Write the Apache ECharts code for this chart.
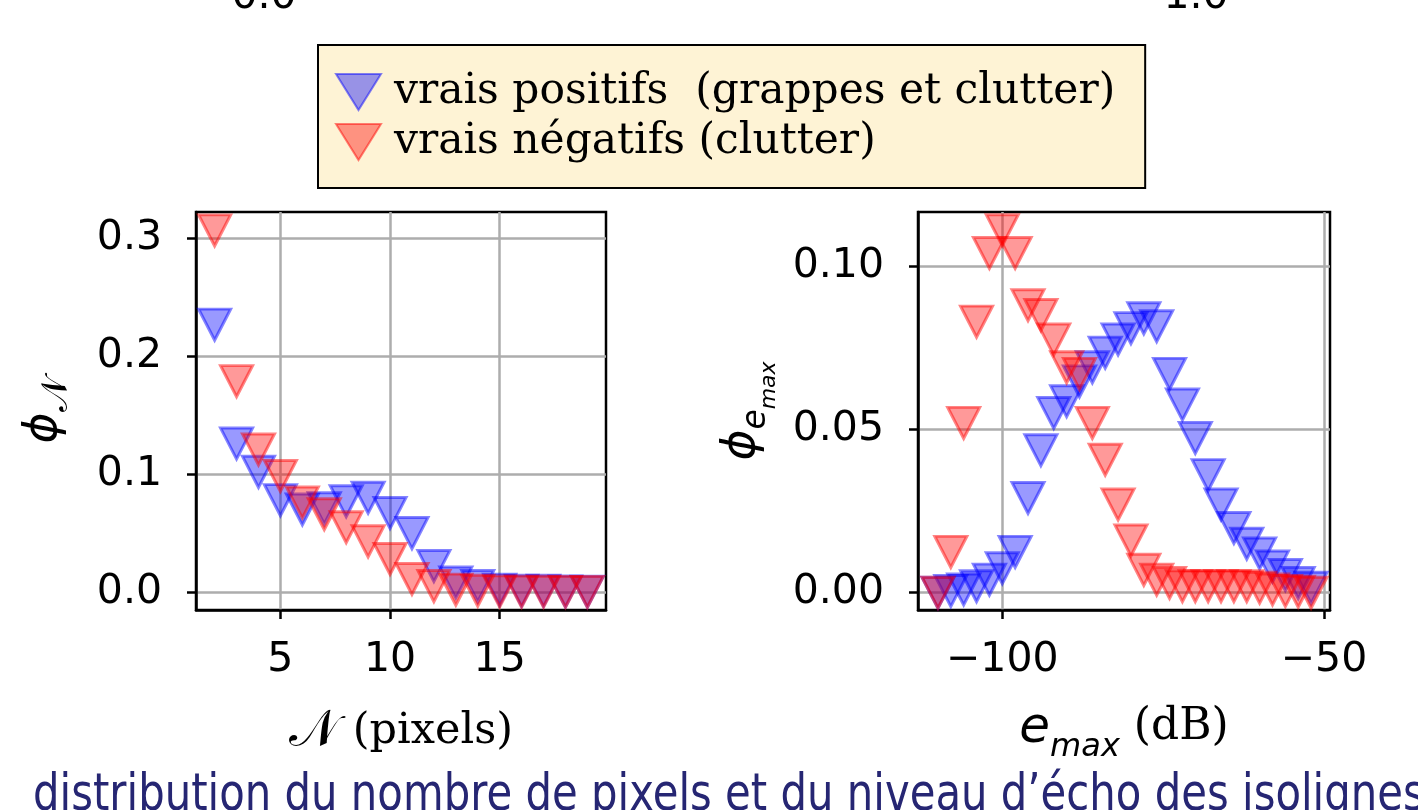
<!DOCTYPE html>
<html>
<head>
<meta charset="utf-8">
<script src="https://cdn.jsdelivr.net/npm/echarts@6/dist/echarts.min.js"></script>
<style>
  html, body { margin: 0; padding: 0; background: #fff; }
  #main { width: 1418px; height: 810px; }
</style>
</head>
<body>
<div id="main"></div>
<script>
// data
var nPixels = [2, 3, 4, 5, 6, 7, 8, 9, 10, 11, 12, 13, 14, 15, 16, 17, 18, 19];
var posN = [0.227, 0.126, 0.102, 0.078, 0.070, 0.071, 0.077, 0.080, 0.067, 0.050, 0.022, 0.008, 0.005, 0.002, 0.001, 0.001, 0.0005, 0.0003];
var negN = [0.307, 0.179, 0.121, 0.0985, 0.076, 0.066, 0.055, 0.043, 0.028, 0.011, 0.005, 0.002, 0.001, 0.0005, 0.0003, 0.0002, 0.0001, 0.0001];

var eMax = [-110, -108, -106, -104, -102, -100, -98, -96, -94, -92, -90, -88, -86, -84, -82,
            -80, -78, -76, -74, -72, -70, -68, -66, -64, -62, -60, -58, -56, -54, -52];
var posE = [0.0, 0.0005, 0.001, 0.002, 0.004, 0.0075, 0.0125, 0.029, 0.0436, 0.055, 0.0586, 0.0647, 0.069, 0.0735, 0.0775,
            0.081, 0.084, 0.0816, 0.067, 0.0576, 0.0474, 0.036, 0.027, 0.0198, 0.015, 0.012, 0.008, 0.0054, 0.003, 0.0015];
var negE = [0.0, 0.0125, 0.052, 0.083, 0.104, 0.111, 0.104, 0.088, 0.085, 0.0775, 0.069, 0.067, 0.052, 0.0407, 0.027,
            0.016, 0.007, 0.004, 0.003, 0.002, 0.002, 0.002, 0.002, 0.002, 0.002, 0.0015, 0.001, 0.0005, 0.0003, 0.0];

var nTicks = [5, 10, 15];
var phiNTicks = [0, 0.1, 0.2, 0.3];
var eTicks = [-100, -50];
var phiETicks = [0, 0.05, 0.1];

var posName = 'vrais positifs  (grappes et clutter)';
var negName = 'vrais négatifs (clutter)';
var caption = 'distribution du nombre de pixels et du niveau d’écho des isolignes';
var topLabels = ['0.0', '1.0'];

var tri = 'path://M0,0L2,0L1,2Z';
var blue = 'rgba(0,0,255,0.5)';
var blueEdge = 'rgba(0,0,255,0.6)';
var red = 'rgba(255,0,0,0.5)';
var redEdge = 'rgba(255,0,0,0.6)';
var tickFont = { fontFamily: 'DejaVu Sans', fontSize: 41, color: '#000' };

function pairs(xs, ys) {
  return xs.map(function (x, i) { return [x, ys[i]]; });
}

function scatter(name, xs, ys, col, edge, idx) {
  return {
    type: 'scatter',
    name: name,
    xAxisIndex: idx,
    yAxisIndex: idx,
    data: pairs(xs, ys),
    symbol: tri,
    symbolSize: [32, 31],
    clip: true,
    itemStyle: { color: col, borderColor: edge, borderWidth: 3 },
    emphasis: { disabled: true }
  };
}

function minusFmt(v) {
  return v < 0 ? '\u2212' + Math.abs(v) : String(v);
}

function xAxisOf(idx, min, max, ticks, fmt, name, gap, rich) {
  return {
    type: 'value', gridIndex: idx, min: min, max: max,
    axisLine: { show: true, onZero: false, lineStyle: { color: '#000', width: 2.5 } },
    axisTick: { show: true, length: 9, customValues: ticks, lineStyle: { color: '#000', width: 2.5 } },
    axisLabel: Object.assign({ customValues: ticks, margin: 30, formatter: fmt }, tickFont),
    splitLine: { show: true, lineStyle: { color: '#adadad', width: 2.5 } },
    name: name, nameLocation: 'middle', nameGap: gap,
    nameTextStyle: { color: '#000', rich: rich }
  };
}

function yAxisOf(idx, min, max, ticks, fmt, name, gap, rich) {
  return {
    type: 'value', gridIndex: idx, min: min, max: max,
    axisLine: { show: true, onZero: false, lineStyle: { color: '#000', width: 2.5 } },
    axisTick: { show: true, length: 9, customValues: ticks, lineStyle: { color: '#000', width: 2.5 } },
    axisLabel: Object.assign({ customValues: ticks, margin: 34, formatter: fmt }, tickFont),
    splitLine: { show: true, lineStyle: { color: '#adadad', width: 2.5 } },
    name: name, nameLocation: 'middle', nameGap: gap, nameRotate: 90,
    nameTextStyle: { color: '#000', rich: rich }
  };
}

var ital = { fontFamily: 'DejaVu Sans', fontStyle: 'italic', color: '#000' };
var richN = {
  cal: { fontFamily: 'DejaVu Serif', fontSize: 52, color: '#000', verticalAlign: 'top', lineHeight: 56 },
  ser: { fontFamily: 'DejaVu Serif', fontSize: 43, color: '#000', verticalAlign: 'top', lineHeight: 56, padding: [4, 0, 0, 0] }
};
var richE = {
  e: Object.assign({ fontSize: 50, verticalAlign: 'top', lineHeight: 54 }, ital),
  sub: Object.assign({ fontSize: 32, verticalAlign: 'top', lineHeight: 34, padding: [28, 0, 0, 0] }, ital),
  ser: { fontFamily: 'DejaVu Serif', fontSize: 44, color: '#000', verticalAlign: 'top', lineHeight: 54, padding: [2, 0, 0, 0] }
};
var richPhiN = {
  phi: Object.assign({ fontSize: 47, verticalAlign: 'top', lineHeight: 52 }, ital),
  sub: { fontFamily: 'DejaVu Serif', fontSize: 36, color: '#000', verticalAlign: 'top', lineHeight: 36, padding: [20, 0, 0, 0] }
};
var richPhiE = {
  phi: Object.assign({ fontSize: 47, verticalAlign: 'top', lineHeight: 52 }, ital),
  sub: Object.assign({ fontSize: 33, verticalAlign: 'top', lineHeight: 34, padding: [22, 0, 0, 0] }, ital),
  sub2: Object.assign({ fontSize: 22, verticalAlign: 'top', lineHeight: 24, padding: [40, 0, 0, 0] }, ital)
};

// squeeze the caption to the width it has in the picture
var ctx = document.createElement('canvas').getContext('2d');
ctx.font = '51px "DejaVu Sans"';
var capScale = 1370 / ctx.measureText(caption.slice(0, -1)).width;

var chart = echarts.init(document.getElementById('main'), null, { renderer: 'canvas' });

chart.setOption({
  backgroundColor: '#fff',
  animation: false,
  grid: [
    { left: 196, top: 212, width: 410, height: 398, show: true, borderColor: '#000', borderWidth: 2.5, backgroundColor: '#fff' },
    { left: 918, top: 212, width: 412, height: 398, show: true, borderColor: '#000', borderWidth: 2.5, backgroundColor: '#fff' }
  ],
  xAxis: [
    xAxisOf(0, 1.15, 19.85, nTicks, minusFmt, '{cal|\uD835\uDCA9}{ser| (pixels)}', 96, richN),
    xAxisOf(1, -113.1, -49.06, eTicks, minusFmt, '{e|e}{sub|max}{ser| (dB)}', 94, richE)
  ],
  yAxis: [
    yAxisOf(0, -0.0153, 0.3226, phiNTicks, function (v) { return v.toFixed(1); },
      '{phi|\u03D5}{sub|\uD835\uDCA9}', 124, richPhiN),
    yAxisOf(1, -0.0053, 0.11656, phiETicks, function (v) { return v.toFixed(2); },
      '{phi|\u03D5}{sub|e}{sub2|max}', 148, richPhiE)
  ],
  legend: {
    left: 318, top: 45, orient: 'vertical',
    backgroundColor: '#fef3d5', borderColor: '#000', borderWidth: 2, borderRadius: 0,
    padding: [26, 30, 25, 17], itemGap: 8, itemWidth: 45, itemHeight: 36,
    symbolKeepAspect: false, selectedMode: false,
    textStyle: { fontFamily: 'DejaVu Serif', fontSize: 42.4, color: '#000', padding: [0, 0, 0, 8] },
    data: [{ name: posName, icon: tri }, { name: negName, icon: tri }]
  },
  graphic: [
    { type: 'text', x: 264, y: -3, style: { text: topLabels[0], font: '41px "DejaVu Sans"', fill: '#000', align: 'center', verticalAlign: 'middle' } },
    { type: 'text', x: 1196, y: -3, style: { text: topLabels[1], font: '41px "DejaVu Sans"', fill: '#000', align: 'center', verticalAlign: 'middle' } },
    { type: 'text', x: 33, y: 797, scaleX: capScale, style: { text: caption, font: '51px "DejaVu Sans"', fill: '#262673', align: 'left', verticalAlign: 'middle' } }
  ],
  series: [
    scatter(posName, nPixels, posN, blue, blueEdge, 0),
    scatter(negName, nPixels, negN, red, redEdge, 0),
    scatter(posName, eMax, posE, blue, blueEdge, 1),
    scatter(negName, eMax, negE, red, redEdge, 1)
  ]
});
</script>
</body>
</html>
